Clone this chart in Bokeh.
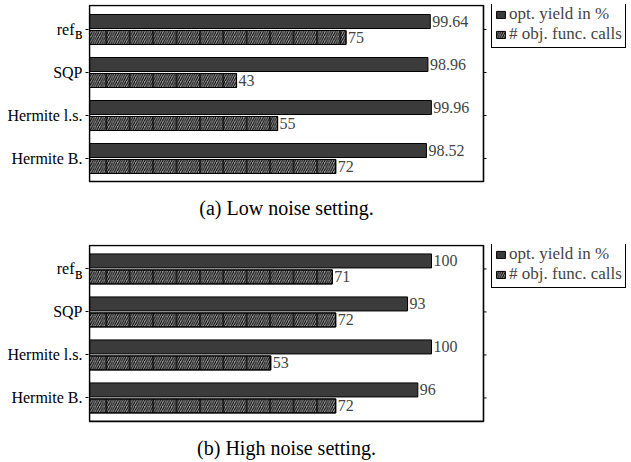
from bokeh.plotting import figure
from bokeh.models import (ColumnDataSource, Range1d, FixedTicker, Legend, LegendItem,
                          BoxAnnotation, Label)
from bokeh.layouts import column
from bokeh.embed import file_html
from bokeh.resources import INLINE
from bokeh.core.properties import value

categories = ["ref_B", "SQP", "Hermite l.s.", "Hermite B."]
tick_labels = ["ref\u00a0\u00a0", "SQP", "Hermite l.s.", "Hermite B."]
subscript_label = "\u0299"
low_yield = [99.64, 98.96, 99.96, 98.52]
low_calls = [75, 43, 55, 72]
high_yield = [100, 93, 100, 96]
high_calls = [71, 72, 53, 72]
low_yield_text = ["99.64", "98.96", "99.96", "98.52"]
low_calls_text = ["75", "43", "55", "72"]
high_yield_text = ["100", "93", "100", "96"]
high_calls_text = ["71", "72", "53", "72"]
series_names = ["opt. yield in %", "# obj. func. calls"]
captions = ["(a) Low noise setting.", "(b) High noise setting."]

FONT = "Liberation Serif"
DARK = "#3b3b3b"
HATCH_BG = "#9c9c9c"
OFF = 0.186
BAR_H = 0.326
PX_PER_UNIT = 3.42          # horizontal scale, px per value unit
PX_PER_CAT = 43.0           # vertical scale, px per category step
X_MAX = 115.2               # right edge of the plot box
FRAME_W = 631 - 88


def make_panel(yields, calls, ytxt, ctxt, caption, height, top, box_y):
    n = len(categories)
    pos = [n - 1 - i for i in range(n)]
    src = ColumnDataSource(dict(
        cat=categories,
        y_yield=[p + OFF for p in pos],
        y_calls=[p - OFF for p in pos],
        yields=yields, calls=calls, ytxt=ytxt, ctxt=ctxt,
    ))
    x0 = -1 / PX_PER_UNIT
    x1 = x0 + FRAME_W / PX_PER_UNIT
    y1 = box_y[1] + 1 / PX_PER_CAT
    y0 = y1 - (height - top) / PX_PER_CAT
    p = figure(width=631, height=height, output_backend="svg", toolbar_location=None,
               x_range=Range1d(x0, x1), y_range=Range1d(y0, y1),
               min_border_left=88, min_border_right=0, min_border_top=top,
               min_border_bottom=0)
    p.xaxis.visible = False
    p.grid.visible = False
    p.outline_line_color = None
    p.background_fill_color = "white"
    p.border_fill_color = "white"

    p.add_layout(BoxAnnotation(left=0, right=X_MAX, bottom=box_y[0], top=box_y[1],
                               fill_alpha=0, line_color="black", line_alpha=1,
                               line_width=1.6))

    r1 = p.hbar(y="y_yield", left=0, right="yields", height=BAR_H, source=src,
                fill_color=DARK, line_color="black", line_width=1)
    r2 = p.hbar(y="y_calls", left=0, right="calls", height=BAR_H, source=src,
                fill_color=HATCH_BG, line_color="black", line_width=1,
                hatch_pattern="/", hatch_color="black", hatch_scale=4.5, hatch_weight=1)
    p.hbar(y="y_calls", left=0, right="calls", height=BAR_H, source=src,
           fill_color=None, line_color="black", line_width=1,
           hatch_pattern="|", hatch_color="black", hatch_scale=23.4, hatch_weight=1.2)

    # small tick marks on the right side of the plot box
    p.segment(x0=[X_MAX] * n, x1=[X_MAX + 3 / PX_PER_UNIT] * n, y0=pos, y1=pos,
              line_color="black", line_width=1)

    p.text(x="yields", y="y_yield", text="ytxt", source=src, x_offset=2,
           text_baseline="middle", text_align="left", text_color="#444444",
           text_font=value(FONT), text_font_size="16px")
    p.text(x="calls", y="y_calls", text="ctxt", source=src, x_offset=2,
           text_baseline="middle", text_align="left", text_color="#444444",
           text_font=value(FONT), text_font_size="16px")

    sub_tick = pos[0] - 0.1
    overrides = {pos[i]: tick_labels[i] for i in range(n)}
    overrides[sub_tick] = subscript_label
    ax = p.yaxis[0]
    ax.ticker = FixedTicker(ticks=pos + [sub_tick], minor_ticks=pos)
    ax.major_label_overrides = overrides
    ax.major_label_text_font = FONT
    ax.major_label_text_font_size = "16px"
    ax.major_label_text_color = "black"
    ax.major_label_standoff = 3
    ax.axis_line_color = None
    ax.major_tick_line_color = None
    ax.major_tick_out = 3
    ax.major_tick_in = 0
    ax.minor_tick_line_color = "black"
    ax.minor_tick_out = 3
    ax.minor_tick_in = 0

    legend = Legend(items=[LegendItem(label=series_names[0], renderers=[r1]),
                           LegendItem(label=series_names[1], renderers=[r2])],
                    location=(403, height - top - 44),
                    label_text_font=FONT, label_text_font_size="17px",
                    glyph_width=11, glyph_height=9, label_standoff=3, spacing=0,
                    padding=3, margin=0, border_line_color="black", border_line_width=1,
                    border_line_alpha=1, label_height=18, background_fill_alpha=1)
    p.add_layout(legend, "center")

    # caption, centred under the plot box
    p.add_layout(Label(x=X_MAX / 2, y=box_y[0] - 27 / PX_PER_CAT, text=caption,
                       text_align="center", text_baseline="middle", text_font=FONT,
                       text_font_size="20px", text_color="black"))
    return p


pa = make_panel(low_yield, low_calls, low_yield_text, low_calls_text, captions[0],
                244, 4, (-0.535, 3.558))
pb = make_panel(high_yield, high_calls, high_yield_text, high_calls_text, captions[1],
                218, 0, (-0.545, 3.545))
layout = column(pa, pb, spacing=0)
open("out.html", "w").write(file_html(layout, INLINE))
